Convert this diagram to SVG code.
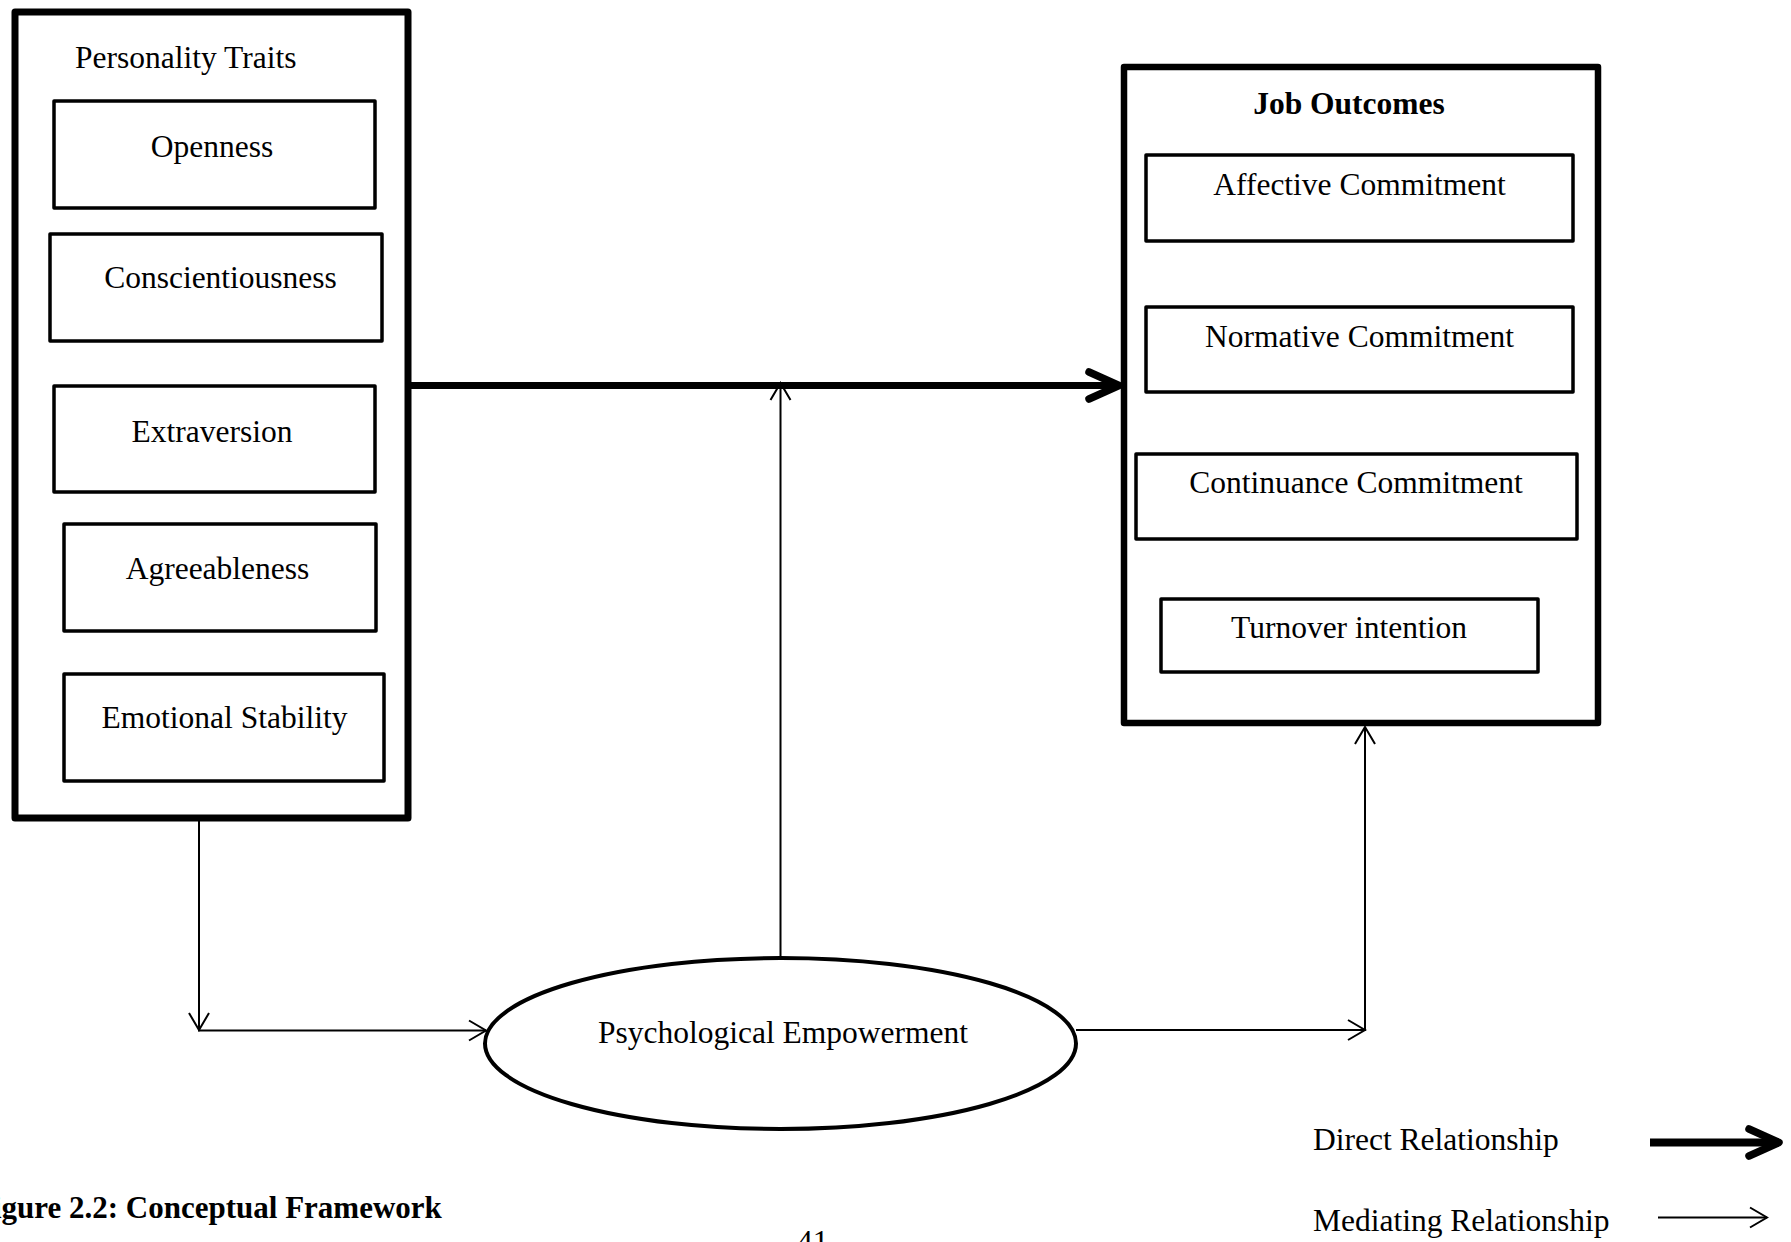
<svg xmlns="http://www.w3.org/2000/svg" width="1791" height="1242" viewBox="0 0 1791 1242">
<style>
  text { font-family: "Liberation Serif", "Times New Roman", serif; font-size: 31.5px; fill: #000; }
  .c { text-anchor: middle; }
  .b { font-weight: bold; }
  .outer { fill: none; stroke: #000; stroke-width: 7; stroke-linejoin: round; }
  .inner { fill: none; stroke: #000; stroke-width: 3.5; stroke-linejoin: round; }
  .thin { fill: none; stroke: #000; stroke-width: 2; }
  .thick { fill: none; stroke: #000; stroke-width: 7; }
</style>
<defs>
  <marker id="openThin" markerUnits="userSpaceOnUse" viewBox="-20 -12 24 24" refX="0" refY="0" markerWidth="24" markerHeight="24" orient="auto" overflow="visible">
    <path d="M-17,-10 L0,0 L-17,10" fill="none" stroke="#000" stroke-width="2"/>
  </marker>
  <marker id="openThick" markerUnits="userSpaceOnUse" viewBox="-36 -18 40 36" refX="0" refY="0" markerWidth="40" markerHeight="36" orient="auto" overflow="visible">
    <path d="M-30,-13.5 L0,0 L-30,13.5" fill="none" stroke="#000" stroke-width="7.5" stroke-linecap="round" stroke-linejoin="round"/>
  </marker>
</defs>
<rect width="1791" height="1242" fill="#fff"/>

<g id="personality-traits">
  <rect class="outer" x="15" y="12" width="393" height="806"/>
  <text x="75" y="68">Personality Traits</text>
</g>
<g id="openness">
  <rect class="inner" x="54" y="101" width="321" height="107"/>
  <text class="c" x="212" y="157">Openness</text>
</g>
<g id="conscientiousness">
  <rect class="inner" x="50" y="234" width="332" height="107"/>
  <text class="c" x="220.5" y="288">Conscientiousness</text>
</g>
<g id="extraversion">
  <rect class="inner" x="54" y="386" width="321" height="106"/>
  <text class="c" x="212" y="442">Extraversion</text>
</g>
<g id="agreeableness">
  <rect class="inner" x="64" y="524" width="312" height="107"/>
  <text class="c" x="217.5" y="579">Agreeableness</text>
</g>
<g id="emotional-stability">
  <rect class="inner" x="64" y="674" width="320" height="107"/>
  <text class="c" x="224.5" y="728">Emotional Stability</text>
</g>

<g id="job-outcomes">
  <rect class="outer" x="1124" y="67" width="474" height="656" style="stroke-width:6.5"/>
  <text class="c b" x="1349" y="114">Job Outcomes</text>
</g>
<g id="affective-commitment">
  <rect class="inner" x="1146" y="155" width="427" height="86"/>
  <text class="c" x="1359.5" y="195">Affective Commitment</text>
</g>
<g id="normative-commitment">
  <rect class="inner" x="1146" y="307" width="427" height="85"/>
  <text class="c" x="1359.5" y="347">Normative Commitment</text>
</g>
<g id="continuance-commitment">
  <rect class="inner" x="1136" y="454" width="441" height="85"/>
  <text class="c" x="1356" y="493">Continuance Commitment</text>
</g>
<g id="turnover-intention">
  <rect class="inner" x="1161" y="599" width="377" height="73"/>
  <text class="c" x="1349" y="638">Turnover intention</text>
</g>

<g id="psychological-empowerment">
  <ellipse cx="780.5" cy="1043.5" rx="295.5" ry="85.5" fill="none" stroke="#000" stroke-width="4"/>
  <text class="c" x="783" y="1043">Psychological Empowerment</text>
</g>

<g id="connectors">
  <line class="thick" x1="410" y1="385.5" x2="1119" y2="385.5" marker-end="url(#openThick)"/>
  <line class="thin" x1="780.5" y1="958" x2="780.5" y2="383" marker-end="url(#openThin)"/>
  <line class="thin" x1="199" y1="821" x2="199" y2="1030" marker-end="url(#openThin)"/>
  <line class="thin" x1="198" y1="1030.5" x2="486" y2="1030.5" marker-end="url(#openThin)"/>
  <line class="thin" x1="1076" y1="1030" x2="1365" y2="1030" marker-end="url(#openThin)"/>
  <line class="thin" x1="1365" y1="1031" x2="1365" y2="727" marker-end="url(#openThin)"/>
</g>

<g id="legend">
  <text x="1313" y="1150">Direct Relationship</text>
  <line class="thick" x1="1650" y1="1142.5" x2="1779" y2="1142.5" style="stroke-width:8" marker-end="url(#openThick)"/>
  <text x="1313" y="1231">Mediating Relationship</text>
  <line class="thin" x1="1658" y1="1217.5" x2="1767" y2="1217.5" marker-end="url(#openThin)"/>
</g>

<g id="caption">
  <text class="b" x="-26" y="1218" style="font-size:31px">Figure 2.2: Conceptual Framework</text>
  <text x="797" y="1252">41</text>
</g>
</svg>
